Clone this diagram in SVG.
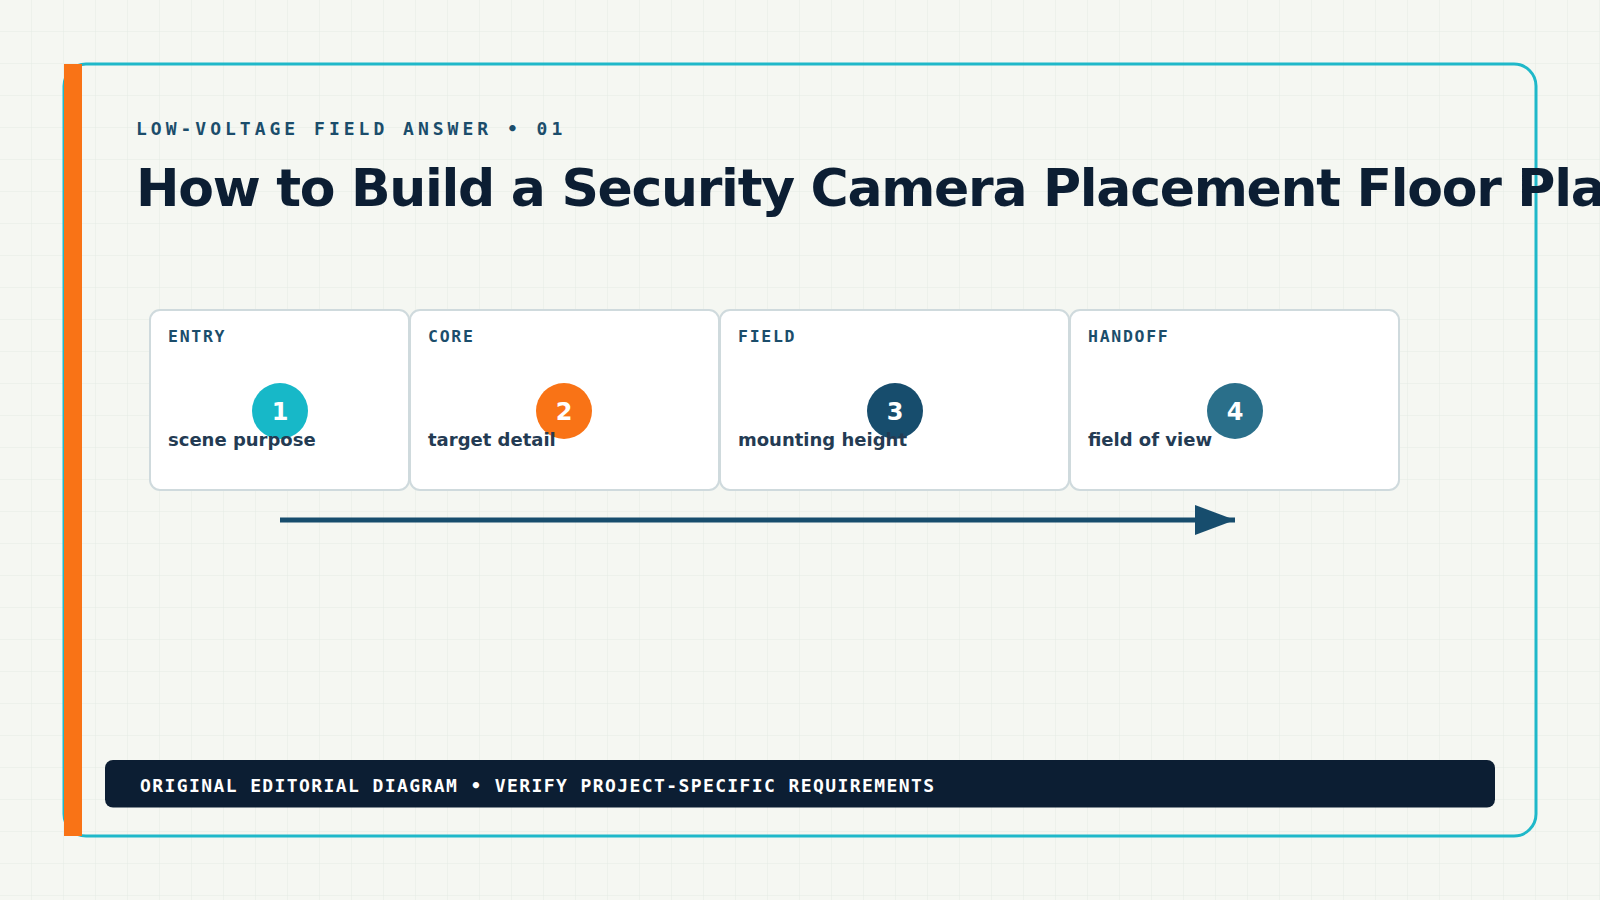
<svg xmlns="http://www.w3.org/2000/svg" width="1600" height="900" viewBox="0 0 1600 900">
  <defs>
    <pattern id="grid" width="32" height="32" patternUnits="userSpaceOnUse">
      <path d="M32 0 V32 M0 32 H32" fill="none" stroke="#e5ebe5" stroke-width="1"/>
    </pattern>
    <marker id="arrow" viewBox="0 0 40 30" refX="40" refY="15" markerWidth="40" markerHeight="30" markerUnits="userSpaceOnUse" orient="auto">
      <path d="M0 0 L40 15 L0 30 Z" fill="#174d6d"/>
    </marker>
  </defs>
  <style>
    .mono { font-family: "DejaVu Sans Mono", "Liberation Mono", monospace; font-weight: bold; }
    .sans { font-family: "DejaVu Sans", "Liberation Sans", sans-serif; font-weight: bold; }
    .card { fill: #ffffff; stroke: #cfdadd; stroke-width: 2; }
    .label { font-size: 16.5px; letter-spacing: 1.7px; fill: #1b4d6b; }
    .body { font-size: 18px; fill: #243b53; }
    .num { font-size: 24px; fill: #ffffff; text-anchor: middle; }
  </style>
  <rect x="0" y="0" width="1600" height="900" fill="#f5f7f2"/>
  <rect x="0" y="0" width="1600" height="900" fill="url(#grid)"/>

  <g id="frame">
    <rect x="64" y="64" width="1472" height="772" rx="22" fill="none" stroke="#1fb8c9" stroke-width="3"/>
    <rect x="64" y="64" width="18" height="772" fill="#f97316"/>
  </g>

  <g id="header">
    <text x="136" y="135" class="mono" font-size="18" letter-spacing="4" fill="#1b4d6b">LOW-VOLTAGE FIELD ANSWER • 01</text>
    <text x="136" y="206" class="sans" font-size="52" letter-spacing="-1.3" fill="#0c1e33">How to Build a Security Camera Placement Floor Plan</text>
  </g>

  <g id="connectors">
    <line x1="280" y1="520" x2="1235" y2="520" stroke="#174d6d" stroke-width="5" marker-end="url(#arrow)"/>
  </g>

  <g id="node-entry">
    <rect x="150" y="310" width="259" height="180" rx="10" class="card"/>
    <text x="168" y="342" class="mono label">ENTRY</text>
    <circle cx="280" cy="411" r="28" fill="#17b8c8"/>
    <text x="280" y="419.5" class="sans num">1</text>
    <text x="168" y="445.5" class="sans body">scene purpose</text>
  </g>

  <g id="node-core">
    <rect x="410" y="310" width="309" height="180" rx="10" class="card"/>
    <text x="428" y="342" class="mono label">CORE</text>
    <circle cx="564" cy="411" r="28" fill="#f97316"/>
    <text x="564" y="419.5" class="sans num">2</text>
    <text x="428" y="445.5" class="sans body">target detail</text>
  </g>

  <g id="node-field">
    <rect x="720" y="310" width="349" height="180" rx="10" class="card"/>
    <text x="738" y="342" class="mono label">FIELD</text>
    <circle cx="895" cy="411" r="28" fill="#174d6d"/>
    <text x="895" y="419.5" class="sans num">3</text>
    <text x="738" y="445.5" class="sans body">mounting height</text>
  </g>

  <g id="node-handoff">
    <rect x="1070" y="310" width="329" height="180" rx="10" class="card"/>
    <text x="1088" y="342" class="mono label">HANDOFF</text>
    <circle cx="1235" cy="411" r="28" fill="#2a6f8a"/>
    <text x="1235" y="419.5" class="sans num">4</text>
    <text x="1088" y="445.5" class="sans body">field of view</text>
  </g>

  <g id="footer">
    <rect x="105" y="760" width="1390" height="47.5" rx="8" fill="#0c1e33"/>
    <text x="140" y="791.5" class="mono" font-size="18" letter-spacing="1.4" fill="#ffffff">ORIGINAL EDITORIAL DIAGRAM • VERIFY PROJECT-SPECIFIC REQUIREMENTS</text>
  </g>
</svg>
